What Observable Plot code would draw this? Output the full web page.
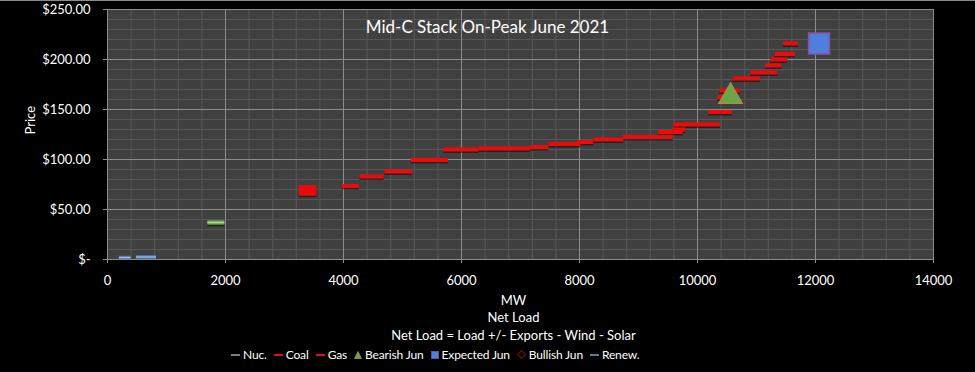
<!DOCTYPE html>
<html><head><meta charset="utf-8">
<script src="https://cdn.jsdelivr.net/npm/d3@7"></script>
<script src="https://cdn.jsdelivr.net/npm/@observablehq/plot@0.6"></script>
<style>
html,body{margin:0;padding:0;background:#000;}
body{width:975px;height:372px;position:relative;overflow:hidden;font-family:Lato, "Open Sans", sans-serif;}
#topline{position:absolute;left:0;top:0;width:975px;height:1px;background:#8a8a8a;}
#chart{position:absolute;left:0;top:0;}
#legend{position:absolute;left:231px;top:347px;display:flex;align-items:center;color:#fff;font-size:12px;letter-spacing:-0.15px;white-space:nowrap;}
#legend .item{display:flex;align-items:center;margin-right:7px;}
#legend svg{margin-right:3px;}
</style></head><body>
<div id="chart"></div>
<div id="topline"></div>
<div id="legend"></div>
<script>
// ---- text ----
const title = "Mid-C Stack On-Peak June 2021";
const yLabel = "Price";
const xLabelLines = ["MW", "Net Load", "Net Load = Load +/- Exports - Wind - Solar"];
const legendNames = ["Nuc.", "Coal", "Gas", "Bearish Jun", "Expected Jun", "Bullish Jun", "Renew."];

// ---- ticks ----
const xTicks = [0, 2000, 4000, 6000, 8000, 10000, 12000, 14000];
const yTicks = [0, 50, 100, 150, 200, 250];
const xMinor = d3.range(0, 14001, 400);
const yMinor = d3.range(0, 251, 10);

// ---- data (MW start, MW end, price) ----
const renewX1 = [200, 490];
const renewX2 = [400, 830];
const renewPrice = [2, 2.5];

const nucX1 = [1700];
const nucX2 = [1990];
const nucPrice = [37];

const coalX1 = [3250, 3250];
const coalX2 = [3550, 3550];
const coalPrice = [71.5, 66.5];

const gasX1 = [3980, 4280, 4700, 5150, 5700, 6290, 7170, 7480, 7970, 8240, 8740, 9340, 9580, 9600, 10190, 10340, 10380, 10600, 10900, 11150, 11240, 11320, 11460];
const gasX2 = [4270, 4690, 5170, 5780, 6300, 7170, 7480, 8020, 8240, 8750, 9590, 9760, 9800, 10390, 10590, 10600, 10730, 11070, 11360, 11430, 11530, 11660, 11710];
const gasPrice = [73.5, 83, 88, 99.5, 110, 111, 112.5, 115.5, 117.5, 120, 122.5, 127.5, 130, 135, 147.5, 162, 169, 181, 187, 194, 200, 205.5, 216];

const bearishX = [10560];
const bearishPrice = [163];
const expectedX = [12060];
const expectedPrice = [216];

// ---- build tables ----
const seg = (x1, x2, p) => x1.map((d, i) => ({x1: d, x2: x2[i], price: p[i]}));
const renew = seg(renewX1, renewX2, renewPrice);
const nuc = seg(nucX1, nucX2, nucPrice);
const coal = seg(coalX1, coalX2, coalPrice);
const gas = seg(gasX1, gasX2, gasPrice);
const bearish = bearishX.map((d, i) => ({x: d, price: bearishPrice[i]}));
const expected = expectedX.map((d, i) => ({x: d, price: expectedPrice[i]}));

const RED = "#ee0a0a";
const fmtY = d => d === 0 ? "$-" : "$" + d.toFixed(2);

const chart = Plot.plot({
  width: 975,
  height: 372,
  marginLeft: 107,
  marginRight: 42,
  marginTop: 9,
  marginBottom: 113,
  style: {background: "#000", color: "#fff", fontFamily: "Lato, 'Open Sans', sans-serif", fontSize: "13px", overflow: "visible"},
  x: {domain: [0, 14000]},
  y: {domain: [0, 250]},
  marks: [
    Plot.frame({fill: "#404040", stroke: "none"}),
    Plot.gridX(xMinor, {stroke: "#575757", strokeOpacity: 1}),
    Plot.gridY(yMinor, {stroke: "#575757", strokeOpacity: 1}),
    Plot.gridX(xTicks, {stroke: "#8c8c8c", strokeOpacity: 1}),
    Plot.gridY(yTicks, {stroke: "#8c8c8c", strokeOpacity: 1}),
    Plot.axisX({ticks: xTicks, tickFormat: d => String(d), tickSize: 4, tickPadding: 12, stroke: "#8c8c8c", label: null, fontSize: 13}),
    Plot.axisY({ticks: yTicks, tickFormat: fmtY, tickSize: 4, tickPadding: 13, stroke: "#8c8c8c", label: null, fontSize: 13}),
    // renewables
    Plot.ruleY(renew, {y: "price", x1: "x1", x2: "x2", stroke: "#4f7fb8", strokeWidth: 3.5}),
    Plot.ruleY(renew, {y: "price", x1: "x1", x2: "x2", stroke: "#9cc0e6", strokeWidth: 1.2}),
    // nuclear
    Plot.ruleY(nuc, {y: "price", x1: "x1", x2: "x2", stroke: "#000", strokeOpacity: 0.5, strokeWidth: 4.5, dy: 1.5}),
    Plot.ruleY(nuc, {y: "price", x1: "x1", x2: "x2", stroke: "#6a9a46", strokeWidth: 4.5}),
    Plot.ruleY(nuc, {y: "price", x1: "x1", x2: "x2", stroke: "#a9d28a", strokeWidth: 1.8}),
    // coal
    Plot.ruleY(coal, {y: "price", x1: "x1", x2: "x2", stroke: "#000", strokeOpacity: 0.45, strokeWidth: 5.5, dy: 1.5}),
    Plot.ruleY(coal, {y: "price", x1: "x1", x2: "x2", stroke: RED, strokeWidth: 5.5}),
    // gas
    Plot.ruleY(gas, {y: "price", x1: "x1", x2: "x2", stroke: "#000", strokeOpacity: 0.45, strokeWidth: 4, dy: 1.5}),
    Plot.ruleY(gas, {y: "price", x1: "x1", x2: "x2", stroke: RED, strokeWidth: 4}),
    // scenarios
    Plot.dot(bearish, {x: "x", y: "price", symbol: "triangle", r: 8.6, fill: "#6aa642", stroke: "#a88c52", strokeWidth: 1.5}),
    Plot.dot(expected, {x: "x", y: "price", symbol: "square", r: 11.8, fill: "#4f7fdc", stroke: "#8a4fa6", strokeWidth: 1.5}),
    // title and labels
    Plot.text([title], {frameAnchor: "top", dx: -33, dy: 11, fill: "#fff", fontSize: 17}),
    Plot.text([yLabel], {frameAnchor: "left", dx: -77, rotate: -90, fill: "#fff", fontSize: 13}),
    Plot.text(xLabelLines, {text: d => d, frameAnchor: "bottom", dx: -7, fill: "#fff", fontSize: 13})
  ]
});
document.getElementById("chart").appendChild(chart);

// position x label lines below the axis (offsets in px from plot bottom)
const lineOffsets = [45, 62, 80];
chart.querySelectorAll("text").forEach(t => {
  const idx = xLabelLines.indexOf(t.textContent);
  if (idx >= 0 && t.closest("g") && t.closest("g").getAttribute("aria-label") === "text") {
    t.setAttribute("transform", (t.getAttribute("transform") || "") + ` translate(0,${lineOffsets[idx]})`);
  }
});

// ---- legend ----
const legendSymbols = [
  '<svg width="9" height="8"><line x1="0" y1="4" x2="9" y2="4" stroke="#9fb38a" stroke-width="1.5"/></svg>',
  '<svg width="9" height="8"><line x1="0" y1="4" x2="9" y2="4" stroke="' + RED + '" stroke-width="2"/></svg>',
  '<svg width="9" height="8"><line x1="0" y1="4" x2="9" y2="4" stroke="' + RED + '" stroke-width="2"/></svg>',
  '<svg width="8" height="8"><polygon points="4,0.5 7.5,7.5 0.5,7.5" fill="#6aa642" stroke="#a88c52" stroke-width="0.8"/></svg>',
  '<svg width="8" height="8"><rect x="0.5" y="0.5" width="7" height="7" fill="#4f7fdc" stroke="#8a4fa6" stroke-width="0.8"/></svg>',
  '<svg width="9" height="9"><polygon points="4.5,0.5 8.5,4.5 4.5,8.5 0.5,4.5" fill="none" stroke="#6a1010" stroke-width="1.2"/></svg>',
  '<svg width="9" height="8"><line x1="0" y1="4" x2="9" y2="4" stroke="#7fa3d3" stroke-width="1.5"/></svg>'
];
const legend = document.getElementById("legend");
legendNames.forEach((n, i) => {
  const el = document.createElement("div");
  el.className = "item";
  el.innerHTML = legendSymbols[i] + "<span>" + n + "</span>";
  legend.appendChild(el);
});
</script>
</body></html>
